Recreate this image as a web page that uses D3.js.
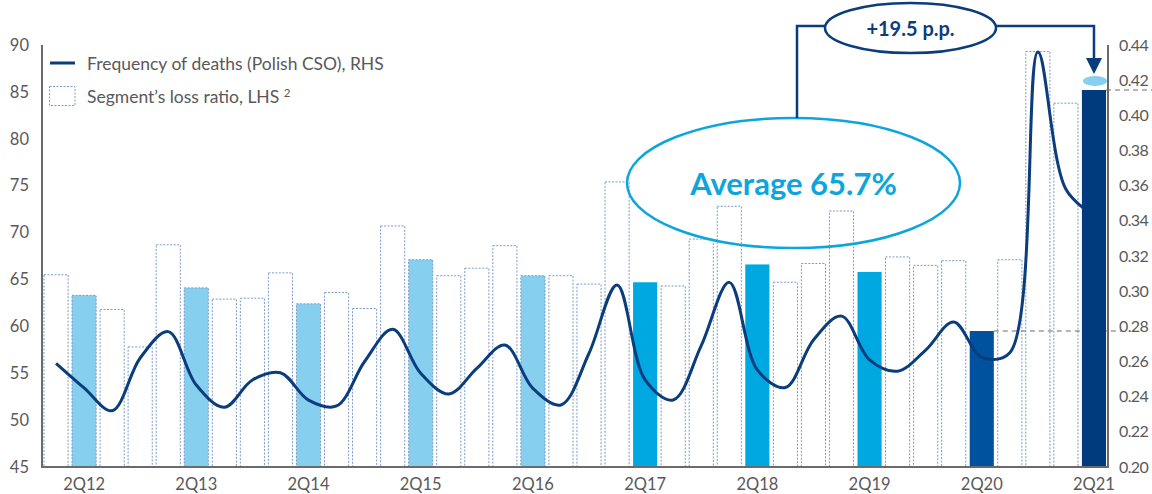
<!DOCTYPE html>
<html>
<head>
<meta charset="utf-8">
<script src="https://cdn.jsdelivr.net/npm/d3@7"></script>
<style>
  html, body { margin: 0; padding: 0; background: #ffffff; }
  svg { display: block; font-family: Lato, "Noto Sans", sans-serif; }
</style>
</head>
<body>
<svg id="chart" width="1152" height="494"></svg>
<script>
// Quarterly categories, 1Q12 .. 2Q21
const quarters = [
  "1Q12","2Q12","3Q12","4Q12","1Q13","2Q13","3Q13","4Q13",
  "1Q14","2Q14","3Q14","4Q14","1Q15","2Q15","3Q15","4Q15",
  "1Q16","2Q16","3Q16","4Q16","1Q17","2Q17","3Q17","4Q17",
  "1Q18","2Q18","3Q18","4Q18","1Q19","2Q19","3Q19","4Q19",
  "1Q20","2Q20","3Q20","4Q20","1Q21","2Q21"
];

// Segment's loss ratio, % (left axis)
const lossRatio = [
  65.5, 63.3, 61.8, 57.8, 68.7, 64.1, 62.9, 63.0,
  65.7, 62.4, 63.6, 61.9, 70.7, 67.1, 65.4, 66.2,
  68.6, 65.4, 65.4, 64.5, 75.4, 64.7, 64.3, 69.3,
  72.8, 66.6, 64.7, 66.7, 72.3, 65.8, 67.4, 66.5,
  67.0, 59.5, 67.1, 89.3, 83.8, 85.2
];

// Frequency of deaths, Polish CSO (right axis)
const deathFrequency = [
  0.259, 0.245, 0.232, 0.262, 0.277, 0.2466, 0.234, 0.2495,
  0.2536, 0.238, 0.2347, 0.260, 0.2783, 0.2533, 0.2415, 0.2561,
  0.2694, 0.2447, 0.2353, 0.2647, 0.3035, 0.2495, 0.2381, 0.269,
  0.305, 0.2552, 0.2452, 0.2722, 0.2858, 0.2609, 0.2545, 0.2665,
  0.2825, 0.2624, 0.265, 0.436, 0.358, 0.343
];

const leftTicks = [45, 50, 55, 60, 65, 70, 75, 80, 85, 90];
const rightTicks = [0.20, 0.22, 0.24, 0.26, 0.28, 0.30, 0.32, 0.34, 0.36, 0.38, 0.40, 0.42, 0.44];
const xTickLabels = ["2Q12","2Q13","2Q14","2Q15","2Q16","2Q17","2Q18","2Q19","2Q20","2Q21"];

const averageLabel = "Average 65.7%";
const changeLabel = "+19.5 p.p.";
const baseQuarter = "2Q20";
const currentQuarter = "2Q21";

const legendLine = "Frequency of deaths (Polish CSO), RHS";
const legendBars = "Segment\u2019s loss ratio, LHS";

// ---- layout ----
const plotLeft = 42, plotRight = 1108, plotTop = 45, plotBottom = 467;
const svg = d3.select("#chart");

const x = d3.scaleBand().domain(quarters).range([plotLeft, plotRight])
  .paddingInner(0.14).paddingOuter(0.07);
const yL = d3.scaleLinear().domain([45, 90]).range([plotBottom, plotTop]);
const yR = d3.scaleLinear().domain([0.20, 0.44]).range([plotBottom, plotTop]);

const axisGrey = "#6b6b6b";
const labelGrey = "#595959";
const navy = "#0b3c7c";

function barFill(q) {
  if (!q.startsWith("2Q")) return "#ffffff";
  const yr = +q.slice(2);
  if (yr <= 16) return "#86cfef";
  if (yr <= 19) return "#00a8e2";
  if (yr === 20) return "#00529f";
  return "#003b7d";
}

const bars = quarters.map((q, i) => ({ q, v: lossRatio[i] }));

function drawBars(g, data) {
  g.selectAll("rect").data(data).join("rect")
    .attr("x", d => x(d.q))
    .attr("y", d => yL(d.v))
    .attr("width", x.bandwidth())
    .attr("height", d => yL(45) - yL(d.v))
    .attr("fill", d => barFill(d.q))
    .attr("stroke", d => {
      const f = barFill(d.q);
      return (f === "#ffffff" || f === "#86cfef") ? "#7d9ac6" : "none";
    })
    .attr("stroke-width", 1)
    .attr("stroke-dasharray", "2,1.5");
}

drawBars(svg.append("g"), bars.filter(d => d.q !== currentQuarter));

// Reference dashes at the base and current quarter levels
const baseVal = lossRatio[quarters.indexOf(baseQuarter)];
const curVal = lossRatio[quarters.indexOf(currentQuarter)];
svg.append("line")
  .attr("x1", x(baseQuarter) + x.bandwidth()).attr("x2", 1122)
  .attr("y1", yL(baseVal)).attr("y2", yL(baseVal))
  .attr("stroke", "#6b6b6b").attr("stroke-width", 1.2).attr("stroke-dasharray", "5,4");
svg.append("line")
  .attr("x1", x(currentQuarter) + x.bandwidth()).attr("x2", 1152)
  .attr("y1", yL(curVal)).attr("y2", yL(curVal))
  .attr("stroke", "#6b6b6b").attr("stroke-width", 1.2).attr("stroke-dasharray", "5,4");

// Death frequency line
const line = d3.line()
  .x((d, i) => x(quarters[i]) + x.bandwidth() / 2)
  .y(d => yR(d))
  .curve(d3.curveCatmullRom.alpha(0.5));
svg.append("path")
  .datum(deathFrequency)
  .attr("d", line)
  .attr("fill", "none")
  .attr("stroke", navy)
  .attr("stroke-width", 3)
  .attr("stroke-linejoin", "round");

drawBars(svg.append("g"), bars.filter(d => d.q === currentQuarter));

// ---- axes ----
svg.append("line").attr("x1", plotLeft).attr("x2", plotLeft).attr("y1", plotTop).attr("y2", plotBottom + 1)
  .attr("stroke", axisGrey).attr("stroke-width", 2);
svg.append("line").attr("x1", plotRight).attr("x2", plotRight).attr("y1", plotTop).attr("y2", plotBottom + 1)
  .attr("stroke", axisGrey).attr("stroke-width", 2);
svg.append("line").attr("x1", plotLeft - 1).attr("x2", plotRight + 1).attr("y1", plotBottom).attr("y2", plotBottom)
  .attr("stroke", axisGrey).attr("stroke-width", 2);

function styleAxis(g) {
  g.select(".domain").remove();
  g.selectAll(".tick line").remove();
  g.selectAll("text").attr("fill", labelGrey).style("font-size", "16.5px")
    .style("font-family", "Lato, 'Noto Sans', sans-serif");
}

svg.append("g").attr("transform", `translate(${plotLeft},0)`)
  .call(d3.axisLeft(yL).tickValues(leftTicks).tickSize(0).tickPadding(13).tickFormat(d3.format("d")))
  .call(styleAxis);

svg.append("g").attr("transform", `translate(${plotRight},0)`)
  .call(d3.axisRight(yR).tickValues(rightTicks).tickSize(0).tickPadding(11).tickFormat(d3.format(".2f")))
  .call(styleAxis)
  .call(g => g.selectAll("text").style("font-size", "16px").style("letter-spacing", "-0.6px"));

svg.append("g").attr("transform", `translate(0,${plotBottom})`)
  .call(d3.axisBottom(x).tickValues(xTickLabels).tickSize(0).tickPadding(11))
  .call(styleAxis);

// ---- legend ----
const lg = svg.append("g");
lg.append("line").attr("x1", 50).attr("x2", 75).attr("y1", 63).attr("y2", 63)
  .attr("stroke", navy).attr("stroke-width", 3);
lg.append("text").attr("x", 87).attr("y", 70).attr("fill", labelGrey)
  .style("font-size", "17.5px").text(legendLine);
lg.append("rect").attr("x", 49.5).attr("y", 86.5).attr("width", 25.5).attr("height", 19)
  .attr("fill", "#ffffff").attr("stroke", "#7d9ac6").attr("stroke-width", 1)
  .attr("stroke-dasharray", "2,1.5");
const lt = lg.append("text").attr("x", 87).attr("y", 102.5).attr("fill", labelGrey)
  .style("font-size", "17.5px");
lt.append("tspan").text(legendBars + " ");
lt.append("tspan").attr("dy", -6).style("font-size", "11.5px").text("2");

// ---- annotations ----
const cx = x(currentQuarter) + x.bandwidth() / 2;

// Average ellipse
svg.append("ellipse").attr("cx", 793.5).attr("cy", 183).attr("rx", 166.5).attr("ry", 65)
  .attr("fill", "none").attr("stroke", "#0ea5dd").attr("stroke-width", 2.5);
svg.append("text").attr("x", 793.5).attr("y", 195).attr("text-anchor", "middle")
  .attr("fill", "#0ea5dd").style("font-size", "31px").style("font-weight", 700)
  .text(averageLabel);

// Change bubble and connector to the current quarter
svg.append("path")
  .attr("d", `M797,118 V26 H825 M996,26 H${cx} V60`)
  .attr("fill", "none").attr("stroke", navy).attr("stroke-width", 2.5);
svg.append("path")
  .attr("d", `M${cx - 8},58 L${cx + 8},58 L${cx},74 Z`)
  .attr("fill", navy);
svg.append("ellipse").attr("cx", 910.5).attr("cy", 28).attr("rx", 85.5).attr("ry", 25)
  .attr("fill", "none").attr("stroke", navy).attr("stroke-width", 2.5);
svg.append("text").attr("x", 910.5).attr("y", 36).attr("text-anchor", "middle")
  .attr("fill", navy).style("font-size", "20px").style("font-weight", 700)
  .text(changeLabel);

// Marker above the current quarter bar
svg.append("ellipse").attr("cx", cx + 1).attr("cy", yL(curVal) - 9).attr("rx", 12).attr("ry", 5)
  .attr("fill", "#86cfef");
</script>
</body>
</html>
